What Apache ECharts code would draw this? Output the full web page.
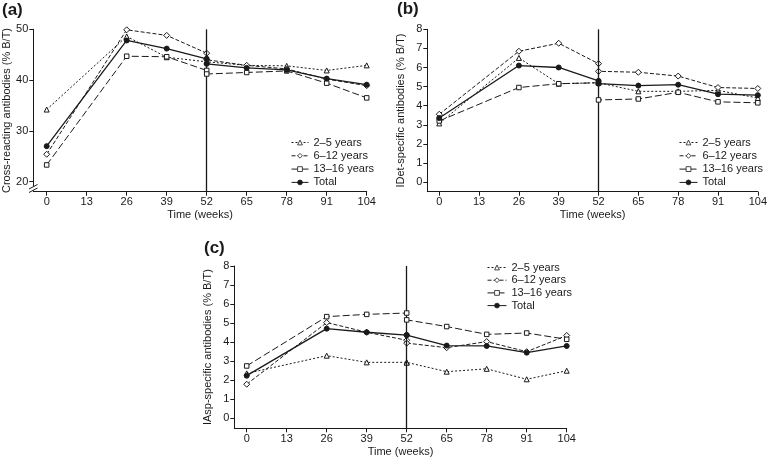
<!DOCTYPE html>
<html>
<head>
<meta charset="utf-8">
<script src="https://cdn.jsdelivr.net/npm/echarts@6/dist/echarts.min.js"></script>
<style>
html,body{margin:0;padding:0;background:#fff;}
#chart{width:770px;height:459px;}
</style>
</head>
<body>
<div id="chart"></div>
<script>
// Time points (week 52 measured twice)
var weeks = [0, 26, 39, 52, 52, 65, 78, 91, 104];
var weekTicks = [0, 13, 26, 39, 52, 65, 78, 91, 104];
var groupNames = ['2–5 years', '6–12 years', '13–16 years', 'Total'];

// Panel (a): cross-reacting antibodies (% B/T)
var a_2_5   = [34.2, 48.6, 44.5, 43.6, 43.8, 42.9, 42.8, 41.9, 42.9];
var a_6_12  = [25.4, 49.9, 48.8, 45.3, 44.0, 42.9, 42.2, 40.2, 38.9];
var a_13_16 = [23.3, 44.7, 44.6, 41.9, 41.2, 41.5, 41.8, 39.4, 36.5];
var a_total = [27.0, 47.8, 46.2, 44.2, 43.2, 42.4, 42.0, 40.3, 39.1];
var aTicks  = [20, 30, 40, 50];

// Panel (b): IDet-specific antibodies (% B/T)
var b_2_5   = [3.07, 6.5, 5.15, 5.2, 5.25, 4.75, 4.75, 4.8, 4.4];
var b_6_12  = [3.55, 6.85, 7.27, 6.2, 5.8, 5.75, 5.55, 4.95, 4.9];
var b_13_16 = [3.2, 4.95, 5.15, 5.2, 4.3, 4.35, 4.7, 4.2, 4.15];
var b_total = [3.35, 6.1, 6.0, 5.3, 5.15, 5.05, 5.1, 4.6, 4.55];

// Panel (c): IAsp-specific antibodies (% B/T)
var c_2_5   = [2.36, 3.29, 2.94, 2.94, 2.92, 2.45, 2.6, 2.05, 2.5];
var c_6_12  = [1.79, 5.03, 4.52, 4.1, 3.95, 3.71, 4.03, 3.5, 4.35];
var c_13_16 = [2.75, 5.34, 5.46, 5.53, 5.17, 4.82, 4.41, 4.48, 4.15];
var c_total = [2.24, 4.71, 4.52, 4.37, 4.37, 3.82, 3.8, 3.45, 3.8];
var bcTicks = [0, 1, 2, 3, 4, 5, 6, 7, 8];

var panelTitles = ['(a)', '(b)', '(c)'];
var yNames = ['Cross-reacting antibodies (% B/T)', 'IDet-specific antibodies (% B/T)', 'IAsp-specific antibodies (% B/T)'];
var xName = 'Time (weeks)';

var FONT = '"Liberation Sans", Arial, Helvetica, sans-serif';
var INK = '#1a1a1a';

function pairs(vals) {
  return weeks.map(function (w, i) { return [w, vals[i]]; });
}

var styles = [
  { symbol: 'triangle', symbolSize: 5, dash: [2, 2], fill: '#fff', width: 1 },
  { symbol: 'diamond', symbolSize: 6, dash: [4, 2], fill: '#fff', width: 1 },
  { symbol: 'rect', symbolSize: 4.5, dash: [7, 3], fill: '#fff', width: 1 },
  { symbol: 'circle', symbolSize: 5, dash: 'solid', fill: INK, width: 1.3 }
];

var panelData = [
  [a_2_5, a_6_12, a_13_16, a_total],
  [b_2_5, b_6_12, b_13_16, b_total],
  [c_2_5, c_6_12, c_13_16, c_total]
];

var grids = [
  { left: 33.3, top: 29.3, width: 333.4, height: 162.4 },
  { left: 427.3, top: 29.3, width: 331.7, height: 162.4 },
  { left: 234.3, top: 266, width: 332.4, height: 162.3 }
];
var xMins = [-4.35, -3.9, -4.03];
var yRanges = [[18.03, 50], [-0.507, 8], [-0.524, 8]];
var yTickSets = [aTicks, bcTicks, bcTicks];

var xAxes = [], yAxes = [], series = [], legends = [];
var legendPos = [
  { left: 286, top: 131.5, itemWidth: 17, gap: 1.3 },
  { left: 674, top: 131.5, itemWidth: 18, gap: 1.3 },
  { left: 482, top: 256.5, itemWidth: 19, gap: 0.7 }
];

for (var p = 0; p < 3; p++) {
  xAxes.push({
    type: 'value', gridIndex: p, min: xMins[p], max: 104,
    name: xName, nameLocation: 'middle', nameGap: 18,
    nameTextStyle: { fontFamily: FONT, fontSize: 11, color: INK },
    axisLine: { show: true, onZero: false, lineStyle: { color: INK, width: 1 } },
    axisTick: { show: true, length: 4, lineStyle: { color: INK }, customValues: weekTicks },
    axisLabel: { fontFamily: FONT, fontSize: 11, color: INK, margin: 5, customValues: weekTicks },
    splitLine: { show: false }
  });
  yAxes.push({
    type: 'value', gridIndex: p, min: yRanges[p][0], max: yRanges[p][1],
    name: yNames[p], nameLocation: 'middle', nameGap: 21, nameRotate: 90,
    nameTextStyle: { fontFamily: FONT, fontSize: 11, color: INK },
    axisLine: { show: true, onZero: false, lineStyle: { color: INK, width: 1 } },
    axisTick: { show: true, length: 4, lineStyle: { color: INK }, customValues: yTickSets[p] },
    axisLabel: { fontFamily: FONT, fontSize: 11, color: INK, margin: 5, customValues: yTickSets[p] },
    splitLine: { show: false }
  });
  for (var g = 0; g < 4; g++) {
    var st = styles[g];
    var s = {
      type: 'line', name: groupNames[g], xAxisIndex: p, yAxisIndex: p,
      data: pairs(panelData[p][g]),
      symbol: st.symbol, symbolSize: st.symbolSize, showAllSymbol: true,
      lineStyle: { color: INK, width: st.width, type: st.dash },
      itemStyle: { color: st.fill, borderColor: INK, borderWidth: 1 },
      emphasis: { disabled: true },
      animation: false, z: 3 + g
    };
    if (g === 3) {
      s.markLine = {
        silent: true, symbol: 'none', animation: false,
        label: { show: false },
        lineStyle: { color: INK, width: 1.3, type: 'solid' },
        data: [{ xAxis: 52 }]
      };
    }
    series.push(s);
  }
  legends.push({
    orient: 'vertical', left: legendPos[p].left, top: legendPos[p].top,
    itemWidth: legendPos[p].itemWidth, itemHeight: 6, itemGap: legendPos[p].gap,
    selectedMode: false,
    data: groupNames,
    itemStyle: { borderWidth: 0.8 },
    lineStyle: { width: 1 },
    textStyle: { fontFamily: FONT, fontSize: 11, color: INK, lineHeight: 12 }
  });
}

var chart = echarts.init(document.getElementById('chart'), null, { renderer: 'canvas' });
chart.setOption({
  backgroundColor: '#fff',
  animation: false,
  grid: grids,
  xAxis: xAxes,
  yAxis: yAxes,
  legend: legends,
  series: series,
  graphic: [
    { type: 'text', left: 2, top: 2, style: { text: panelTitles[0], font: 'bold 17px ' + FONT, fill: INK } },
    { type: 'text', left: 397, top: 1, style: { text: panelTitles[1], font: 'bold 17px ' + FONT, fill: INK } },
    { type: 'text', left: 204, top: 240, style: { text: panelTitles[2], font: 'bold 17px ' + FONT, fill: INK } },
    { type: 'rect', shape: { x: 30, y: 186.5, width: 7, height: 4 }, style: { fill: '#fff' }, z: 100 },
    { type: 'line', shape: { x1: 29, y1: 189, x2: 37.5, y2: 184.5 }, style: { stroke: INK, lineWidth: 1 }, z: 101 },
    { type: 'line', shape: { x1: 29, y1: 192.5, x2: 37.5, y2: 188 }, style: { stroke: INK, lineWidth: 1 }, z: 101 }
  ]
});
</script>
</body>
</html>
